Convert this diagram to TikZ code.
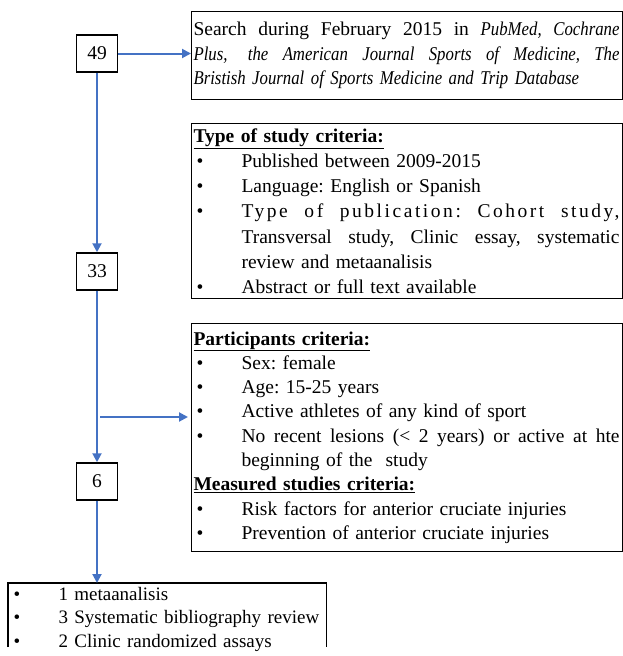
\documentclass[tikz,border=0pt]{standalone}
\usepackage{fontspec}
\setmainfont{Liberation Serif}[ItalicFeatures={FakeStretch=0.86}]
\usetikzlibrary{arrows.meta,positioning}
\frenchspacing

\definecolor{flowblue}{RGB}{68,114,196}
\tikzset{
  count/.style={draw, line width=1.5pt, minimum width=41pt, minimum height=37pt,
    inner sep=0pt, font=\fontsize{19.5}{24}\selectfont},
  crit/.style={draw, line width=1.1pt, anchor=north west, inner xsep=2pt,
    inner ysep=0pt, align=left, font=\fontsize{19.5}{24.3}\selectfont},
  flow/.style={draw=flowblue, line width=2pt, -{Triangle[length=9pt,width=9pt]}},
}
\newcommand{\itm}[1]{\hspace*{3pt}\makebox[45pt][l]{\textbullet}#1}
\newcommand{\cont}[1]{\hspace*{48pt}#1}
\newcommand{\fullline}[1]{\leavevmode\hbox to 426pt{\spaceskip=0.25em plus 3em\relax #1}}
\newcommand{\fullitm}[1]{\hbox to 378pt{\spaceskip=0.25em plus 3em\relax #1}}

\begin{document}
\begin{tikzpicture}[x=1pt,y=-1pt]
\useasboundingbox (0,0) rectangle (623,656);
% counts
\node[count] (n49) at (97,53.5) {49};
\node[count] (n33) at (97,271.5) {33};
\node[count] (n6) at (97,481.5) {6};
% criteria boxes
\node[crit, text width=427pt, minimum height=88pt] (search) at (191,11)
  {\fullline{Search during February 2015 in \textit{PubMed, Cochrane}}\\
   \fullline{\textit{Plus,\kern6pt\ the American Journal Sports of Medicine, The}}\\
   \textit{Bristish Journal of Sports Medicine and Trip Database}};
\node[crit, text width=427pt, minimum height=175pt,
  font=\fontsize{19.5}{25.2}\selectfont] (study) at (191,123)
  {\underline{\textbf{Type of study criteria:}}\\
   \itm{Published between 2009-2015}\\
   \itm{Language: English or Spanish}\\
   \itm{\fullitm{\addfontfeature{LetterSpace=13}Type of publication: Cohort study,}}\\
   \cont{\fullitm{Transversal study, Clinic essay, systematic}}\\
   \cont{review and metaanalisis}\\
   \itm{Abstract or full text available}};
\node[crit, text width=427pt, minimum height=228pt] (part) at (191,323)
  {\underline{\textbf{Participants criteria:}}\\
   \itm{Sex: female}\\
   \itm{Age: 15-25 years}\\
   \itm{Active athletes of any kind of sport}\\
   \itm{\fullitm{No recent lesions (< 2 years) or active at hte}}\\
   \cont{beginning of the\ \ study}\\
   \underline{\textbf{Measured studies criteria:}}\\
   \itm{Risk factors for anterior cruciate injuries}\\
   \itm{Prevention of anterior cruciate injuries}};
% result box (cut by the page edge)
\node[crit, draw=none, text width=330pt, minimum height=71pt,
  font=\fontsize{19}{23.5}\selectfont] (res) at (8,583)
  {\hspace*{3pt}\makebox[45pt][l]{\textbullet}1 metaanalisis\\
   \hspace*{3pt}\makebox[45pt][l]{\textbullet}3 Systematic bibliography review\\
   \hspace*{3pt}\makebox[45pt][l]{\textbullet}2 Clinic randomized assays};
\draw[line width=1.1pt] ([yshift=8pt]res.south west) |- ([xshift=-17pt]res.north east)
  -- ([xshift=-17pt,yshift=8pt]res.south east);
% flow
\coordinate (split) at (100,417);
\draw[flow] (n49.east) -- (n49.east -| search.west);
\draw[flow] (n49.south) -- (n33.north);
\draw[flow] (n33.south) -- (n6.north);
\draw[flow, shorten >=3pt] (split) -- (split -| part.west);
\draw[flow] (n6.south) -- (n6.south |- res.north);
\end{tikzpicture}
\end{document}
